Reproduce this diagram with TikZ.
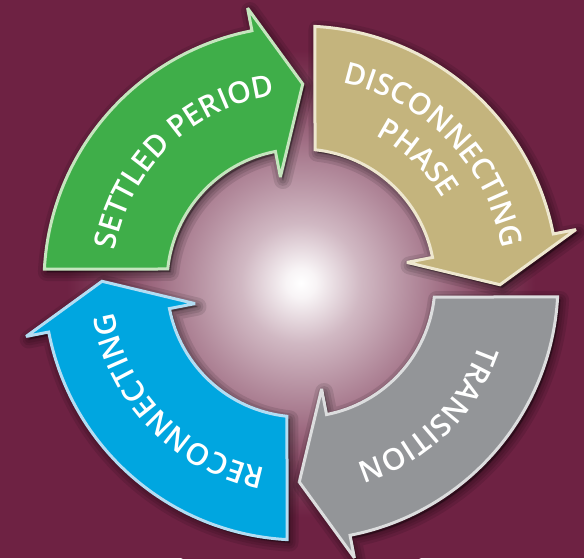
\documentclass[tikz,border=0pt]{standalone}
\usepackage{fontspec}
\setmainfont{Open Sans}
\newfontfamily\semibfont{Open Sans Semibold}
\usetikzlibrary{decorations.text}
\definecolor{bgmaroon}{HTML}{6E2243}
\definecolor{grfill}{HTML}{3FAE49}
\definecolor{grline}{HTML}{C5E5BE}
\definecolor{tnfill}{HTML}{C4B47D}
\definecolor{tnline}{HTML}{EEE7CF}
\definecolor{gyfill}{HTML}{939598}
\definecolor{gyline}{HTML}{DCDDDE}
\definecolor{blfill}{HTML}{00A6E0}
\definecolor{blline}{HTML}{B3DDF3}
\colorlet{glowA}{white!95!bgmaroon}
\colorlet{glowB}{white!68!bgmaroon}
\colorlet{glowC}{white!42!bgmaroon}
\colorlet{glowD}{white!18!bgmaroon}
\pgfdeclareradialshading{glow}{\pgfpoint{0bp}{0bp}}{color(0bp)=(white); color(1.25bp)=(glowA); color(5bp)=(glowB); color(10.4bp)=(glowC); color(15bp)=(glowD); color(19.5bp)=(bgmaroon); color(25bp)=(bgmaroon); color(50bp)=(bgmaroon)}
\newcommand\lbl{\fontsize{30}{30}\selectfont\semibfont}
\def\arrowpath{(176.88:257) arc[start angle=176.88, end angle=101, radius=257] -- (101:280) -- (89.5:199) -- (101:108) -- (101:134) arc[start angle=101, end angle=174, radius=134] -- cycle}
\tikzset{
  arrowbody/.style={line width=3pt, line join=miter, miter limit=4},
  shadowlayer/.style={black, opacity=0.1, line join=round},
  labeltext/.style={decorate, decoration={text along path, text align=center, text color=white, text={#1}}}
}
\newcommand\cyclearrow[3]{%
  \begin{scope}[shift={(2.5,-3)}]\begin{scope}[rotate=#1]
    \foreach \w in {18,12,7,2}{\filldraw[shadowlayer, line width=\w pt] \arrowpath;}
  \end{scope}\end{scope}
  \begin{scope}[rotate=#1]
    \filldraw[arrowbody, fill=#2, draw=#3] \arrowpath;
  \end{scope}}
\begin{document}
\begin{tikzpicture}[x=1pt,y=1pt]
\useasboundingbox (-301,-275) rectangle (283,283);
\clip (-301,-275) rectangle (283,283);
\fill[bgmaroon] (-301,-275) rectangle (283,283);
\shade[shading=glow] (0,0) circle (300);
\cyclearrow{0}{grfill}{grline}
\cyclearrow{-90}{tnfill}{tnline}
\cyclearrow{-180}{gyfill}{gyline}
\cyclearrow{-270}{blfill}{blline}
\begin{scope}[rotate=0]
  \path[labeltext={|\lbl|SETTLED PERIOD}] (174:189) arc[start angle=174, end angle=94, radius=189];
\end{scope}
\begin{scope}[rotate=-90]
  \path[labeltext={|\lbl|DISCONNECTING}] (174:204) arc[start angle=174, end angle=94, radius=204];
  \path[labeltext={|\lbl|PHASE}] (177:165) arc[start angle=177, end angle=97, radius=165];
\end{scope}
\begin{scope}[rotate=-180]
  \path[labeltext={|\lbl|TRANSITION}] (174:189) arc[start angle=174, end angle=94, radius=189];
\end{scope}
\begin{scope}[rotate=-270]
  \path[labeltext={|\lbl|RECONNECTING}] (174:189) arc[start angle=174, end angle=94, radius=189];
\end{scope}
\end{tikzpicture}
\end{document}
